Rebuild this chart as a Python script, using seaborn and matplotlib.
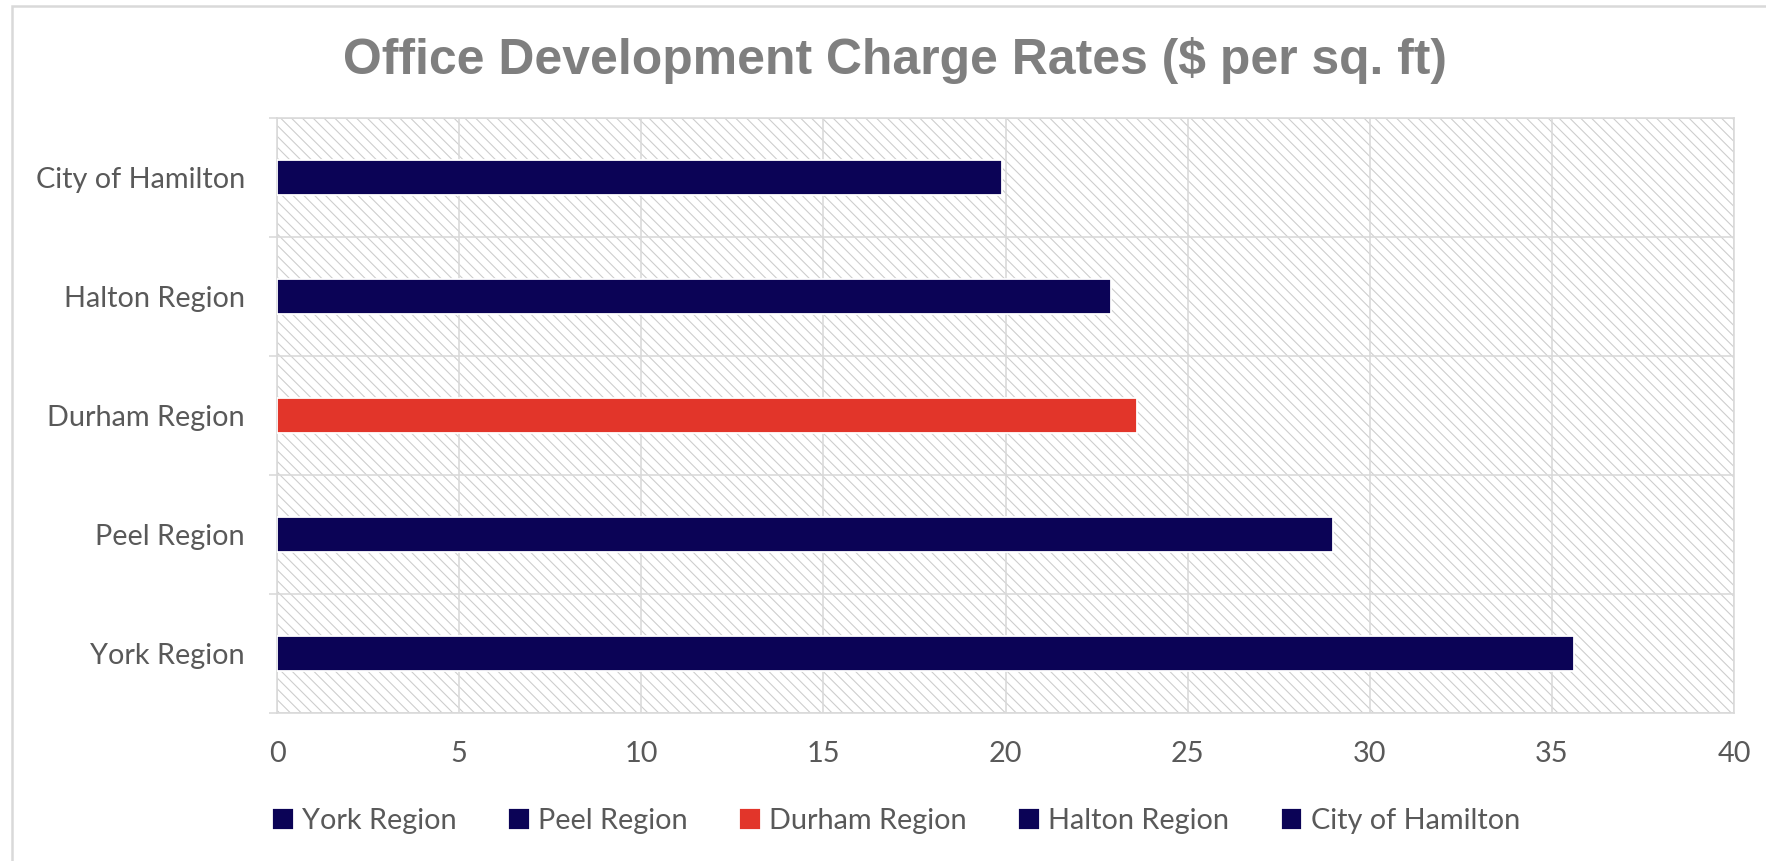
import numpy as np
import pandas as pd
import matplotlib
matplotlib.use("Agg")
import matplotlib.pyplot as plt
from matplotlib.patches import Patch
import seaborn as sns

# values ($ per sq. ft)
regions = ["City of Hamilton", "Halton Region", "Durham Region", "Peel Region", "York Region"]
rates = [19.9, 22.9, 23.6, 29.0, 35.6]
legend_order = ["York Region", "Peel Region", "Durham Region", "Halton Region", "City of Hamilton"]
x_ticks = [0, 5, 10, 15, 20, 25, 30, 35, 40]

NAVY = "#0B0356"
RED = "#E2352A"
GRID = "#D9D9D9"
TEXT = "#595959"
palette = {r: (RED if r == "Durham Region" else NAVY) for r in regions}

DPI = 130
W, H = 1766, 861
FS = 16

sns.set_theme(style="white")
plt.rcParams["font.family"] = ["Lato", "DejaVu Sans"]
plt.rcParams["hatch.linewidth"] = 0.6


def px(v):
    # pixels -> points at this dpi
    return v * 72 / DPI


df = pd.DataFrame({"region": regions, "rate": rates})

fig = plt.figure(figsize=(W / DPI, H / DPI), dpi=DPI)
ax = fig.add_axes([277 / W, 1 - 713 / H, (1734 - 277) / W, (713 - 118) / H])

# hatched plot-area background
bg = plt.Rectangle((0, 0), 1, 1, transform=ax.transAxes, facecolor="white",
                   edgecolor="#CDCDCD", hatch="\\\\\\\\", lw=0, zorder=0)
ax.add_patch(bg)

sns.barplot(data=df, x="rate", y="region", hue="region", order=regions,
            hue_order=legend_order, palette=palette, width=0.29,
            dodge=False, saturation=1, legend=False, ax=ax, zorder=3)

ax.set_xlim(0, 40)
ax.set_ylim(4.5, -0.5)
ax.set_xticks(x_ticks)
ax.set_yticks(np.arange(-0.5, 5, 1), minor=True)
ax.set_axisbelow(True)
ax.grid(axis="x", which="major", color=GRID, lw=px(1.6), zorder=0.5)
ax.grid(axis="y", which="minor", color=GRID, lw=px(1.6), zorder=0.5)
ax.grid(axis="y", which="major", visible=False)
for s in ax.spines.values():
    s.set_color(GRID)
    s.set_linewidth(px(1.6))

ax.tick_params(axis="x", which="major", length=0, pad=px(28), labelsize=FS, labelcolor=TEXT)
ax.tick_params(axis="y", which="major", length=0, pad=px(32), labelsize=FS, labelcolor=TEXT)
ax.tick_params(axis="y", which="minor", left=True, length=px(8), width=px(1.6), color=GRID)
ax.set_xlabel("")
ax.set_ylabel("")

handles = [Patch(facecolor=palette[r], label=r) for r in legend_order]
fig.legend(handles=handles, loc="center", bbox_to_anchor=(896 / W, 1 - 821 / H),
           ncol=5, frameon=False, fontsize=FS, labelcolor=TEXT,
           handlelength=0.75, handleheight=0.75, handletextpad=0.3,
           columnspacing=1.77)

fig.text(895 / W, 1 - 74 / H, "Office Development Charge Rates ($ per sq. ft)",
         ha="center", va="baseline", fontsize=27.6, fontweight="bold",
         color="#7F7F7F", family=["Liberation Sans", "DejaVu Sans"])

# outer chart border (left and top only visible in the crop)
fig.add_artist(plt.Rectangle((12 / W, -0.1), 1.2, 1.1 - 6 / H,
                             transform=fig.transFigure, fill=False,
                             edgecolor=GRID, lw=px(2.5)))

fig.savefig("out.png", dpi=DPI)
